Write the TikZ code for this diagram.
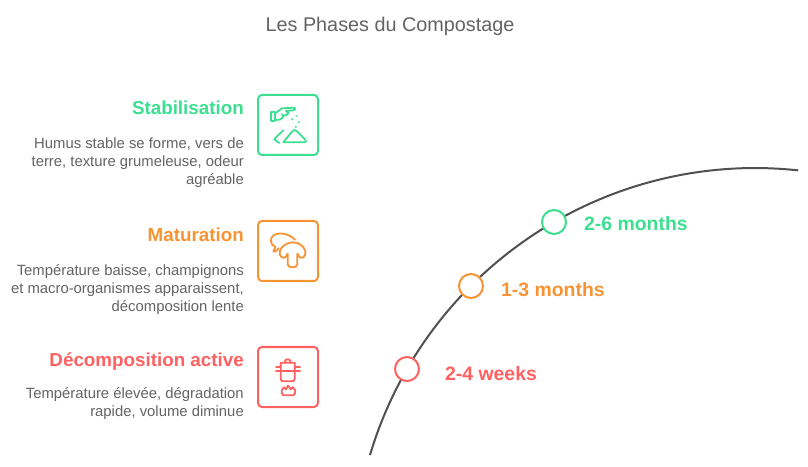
\documentclass[tikz,border=0pt]{standalone}
\usepackage{fontspec}
\setmainfont{Liberation Sans}
\definecolor{cg}{HTML}{3CDF90}
\definecolor{co}{HTML}{F79333}
\definecolor{cr}{HTML}{FF6060}
\definecolor{tx}{HTML}{636363}
\definecolor{ar}{HTML}{505050}
\tikzset{
  head/.style={anchor=east,font=\fontsize{18.8}{22}\selectfont\bfseries,inner sep=0pt},
  body/.style={anchor=north east,align=right,font=\fontsize{14.85}{18}\selectfont,text=tx,inner sep=0pt},
  iconbox/.style={draw,line width=2pt,rounded corners=4pt,minimum width=60pt,minimum height=60pt,inner sep=0pt},
  marker/.style={circle,draw,line width=2pt,fill=white,minimum size=24pt,inner sep=0pt},
  period/.style={anchor=west,font=\fontsize{19.4}{22}\selectfont\bfseries,inner sep=0pt},
  ic/.style={line width=1.8pt,line cap=round,line join=round,x=0.3333pt,y=-0.3333pt}
}
\begin{document}
\begin{tikzpicture}[x=1pt,y=1pt]
\useasboundingbox (0,0) rectangle (808,466);
\node[anchor=center,text=tx,font=\fontsize{19.8}{24}\selectfont,inner sep=0pt] (title) at (390,440) {Les Phases du Compostage};

\coordinate (arcstart) at (370,11);
\draw[ar,line width=2pt] (arcstart) arc[start angle=163.37,end angle=83.85,radius=402];

\node[marker,draw=cg] (m3) at (554,244) {};
\node[marker,draw=co] (m2) at (471,180) {};
\node[marker,draw=cr] (m1) at (407,97) {};
\node[period,text=cg] (p3) at (584,242) {2-6 months};
\node[period,text=co] (p2) at (501,176) {1-3 months};
\node[period,text=cr] (p1) at (445,92) {2-4 weeks};

\node[head,text=cg] (h3) at (244,358) {Stabilisation};
\node[body] (b3) at (244,328) {Humus stable se forme, vers de\\terre, texture grumeleuse, odeur\\agréable};
\node[head,text=co] (h2) at (244,231) {Maturation};
\node[body] (b2) at (244,202) {Température baisse, champignons\\et macro-organismes apparaissent,\\décomposition lente};
\node[head,text=cr] (h1) at (244,104) {Décomposition active};
\node[body] (b1) at (244,79) {Température élevée, dégradation\\rapide, volume diminue};

\node[iconbox,draw=cg] (i3) at (288,341) {};
\node[iconbox,draw=co] (i2) at (288,215) {};
\node[iconbox,draw=cr] (i1) at (288,89) {};

% Stabilisation icon
\begin{scope}[shift={(250,381)},ic,draw=cg]
\draw (62,82) rectangle (75,108);
\draw (75,86) .. controls (84,82) and (88,72) .. (96,70) -- (134,68) .. controls (138,72) and (134,76) .. (130,76) -- (108,78);
\draw (108,78) -- (116,84) .. controls (112,90) and (106,92) .. (100,92) -- (96,88);
\draw (100,92) .. controls (96,104) and (88,106) .. (75,104);
\draw (139,92) -- (140,93) (126,102) -- (127,103) (146,111) -- (147,112) (137,125) -- (138,126);
\draw (100,136) .. controls (90,146) and (80,154) .. (73,163) -- (88,174);
\draw (100,172) -- (106,164) -- (128,138) .. controls (132,134) and (136,134) .. (140,138) -- (166,164) .. controls (170,170) and (168,172) .. (162,172) -- cycle;
\end{scope}

% Maturation icon
\begin{scope}[shift={(250,255)},ic,draw=co]
\draw (135,86) .. controls (120,70) and (90,62) .. (72,72) .. controls (58,80) and (60,102) .. (76,108) -- (70,122) .. controls (76,122) and (82,118) .. (86,112);
\draw (90,132) .. controls (84,110) and (110,94) .. (130,94) .. controls (150,94) and (172,112) .. (165,132) .. controls (160,146) and (148,142) .. (142,128) -- (142,160) .. controls (142,172) and (113,172) .. (113,160) -- (113,128) .. controls (108,142) and (96,146) .. (90,132) -- cycle;
\end{scope}

% Décomposition active icon
\begin{scope}[shift={(250,128)},ic,draw=cr]
\draw (92,74) -- (134,74) -- (134,122) .. controls (134,128) and (130,130) .. (126,130) -- (100,130) .. controls (96,130) and (92,128) .. (92,122) -- cycle;
\draw (78,100) -- (150,100);
\draw (78,87) -- (92,87) (134,87) -- (150,87);
\draw (104,74) .. controls (104,60) and (122,60) .. (122,74);
\draw (100,172) .. controls (90,164) and (96,152) .. (102,148) -- (108,154) -- (114,143) -- (122,154) -- (128,148) .. controls (136,154) and (140,164) .. (130,172) -- cycle;
\end{scope}
\end{tikzpicture}
\end{document}
